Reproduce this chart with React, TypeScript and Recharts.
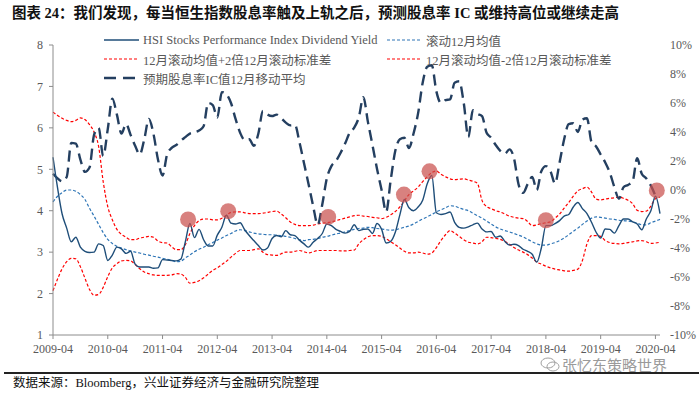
import React from "react"
import {
  ComposedChart,
  Line,
  Scatter,
  XAxis,
  YAxis,
} from "recharts"

// month index 0 = 2009-04, one value per month
const xTickLabels = [
  "2009-04", "2010-04", "2011-04", "2012-04", "2013-04", "2014-04",
  "2015-04", "2016-04", "2017-04", "2018-04", "2019-04", "2020-04",
]

const yieldValues = [
  5.29, 4.55, 3.92, 3.58, 3.25, 3.36, 3.12, 3.02, 2.99, 3.0, 3.2, 3.16,
  2.8, 2.93, 3.12, 3.08, 2.97, 3.02, 2.71, 2.64, 2.64, 2.64, 2.61, 2.62,
  2.82, 2.81, 2.8, 2.79, 2.83, 3.25, 3.69, 3.35, 3.55, 3.3, 3.15, 3.15,
  3.41, 3.6, 3.89, 3.7, 3.68, 3.71, 3.54, 3.4, 3.28, 3.16, 3.05, 3.1,
  3.33, 3.4, 3.37, 3.52, 3.42, 3.4, 3.29, 3.2, 3.12, 3.24, 3.33, 3.45,
  3.68, 3.64, 3.55, 3.5, 3.46, 3.5, 3.66, 3.52, 3.55, 3.56, 3.45, 3.69,
  3.55, 3.22, 3.26, 3.48, 3.9, 4.27, 4.07, 4.0, 4.09, 4.25, 4.65, 4.85,
  3.95, 3.91, 3.93, 3.97, 3.72, 3.6, 3.58, 3.61, 3.66, 3.7, 3.56, 3.49,
  3.5, 3.36, 3.39, 3.26, 3.17, 3.19, 3.16, 3.07, 3.02, 2.95, 2.76, 3.1,
  3.64, 3.64, 3.69, 3.76, 3.87, 3.91, 4.09, 4.2, 4.05, 3.93, 3.72, 3.48,
  3.34, 3.56, 3.55, 3.46, 3.64, 3.8, 3.8, 3.73, 3.68, 3.54, 3.8, 4.0,
  4.35, 3.93,
]

const meanValues = [
  4.21, 4.35, 4.44, 4.5, 4.5, 4.47, 4.39, 4.27, 4.06, 3.87, 3.67, 3.47,
  3.31, 3.21, 3.14, 3.1, 3.06, 3.03, 3.0, 2.98, 2.95, 2.93, 2.9, 2.88,
  2.85, 2.83, 2.8, 2.77, 2.78, 2.86, 2.93, 3.01, 3.07, 3.12, 3.18, 3.23,
  3.29, 3.34, 3.4, 3.45, 3.51, 3.54, 3.52, 3.49, 3.46, 3.44, 3.43, 3.42,
  3.42, 3.41, 3.4, 3.38, 3.36, 3.33, 3.3, 3.28, 3.3, 3.31, 3.33, 3.36,
  3.38, 3.41, 3.44, 3.46, 3.49, 3.52, 3.55, 3.57, 3.58, 3.6, 3.59, 3.57,
  3.56, 3.54, 3.53, 3.54, 3.57, 3.6, 3.63, 3.68, 3.74, 3.8, 3.85, 3.91,
  3.97, 4.02, 4.07, 4.12, 4.11, 4.07, 4.03, 4.0, 3.94, 3.88, 3.82, 3.75,
  3.68, 3.61, 3.56, 3.52, 3.49, 3.45, 3.41, 3.37, 3.31, 3.25, 3.2, 3.17,
  3.17, 3.2, 3.23, 3.28, 3.34, 3.42, 3.5, 3.58, 3.67, 3.75, 3.82, 3.85,
  3.84, 3.82, 3.8, 3.79, 3.77, 3.76, 3.75, 3.73, 3.7, 3.66, 3.66, 3.71,
  3.75, 3.79,
]

const upperValues = [
  6.38, 6.3, 6.23, 6.18, 6.15, 6.18, 6.24, 6.2, 6.08, 5.9, 5.55, 4.7,
  4.1, 3.78, 3.55, 3.43, 3.36, 3.3, 3.3, 3.34, 3.36, 3.38, 3.36, 3.27,
  3.23, 3.22, 3.13, 3.06, 3.06, 3.18, 3.45, 3.64, 3.76, 3.8, 3.8, 3.78,
  3.78, 3.82, 3.89, 3.96, 3.97, 3.97, 3.95, 3.93, 3.93, 3.93, 3.94, 3.96,
  3.98, 3.99, 3.92, 3.83, 3.73, 3.67, 3.64, 3.64, 3.64, 3.65, 3.68, 3.7,
  3.71, 3.73, 3.76, 3.79, 3.82, 3.85, 3.88, 3.89, 3.87, 3.86, 3.84, 3.83,
  3.81, 3.84, 3.9, 3.98, 4.09, 4.24, 4.39, 4.48, 4.57, 4.7, 4.82, 4.92,
  4.96, 4.88, 4.82, 4.77, 4.75, 4.76, 4.77, 4.74, 4.71, 4.66, 4.25, 4.1,
  4.05, 4.0, 3.97, 3.92, 3.87, 3.84, 3.82, 3.81, 3.74, 3.64, 3.66, 3.69,
  3.71, 3.73, 3.82, 3.92, 4.06, 4.2, 4.35, 4.48, 4.53, 4.57, 4.45, 4.28,
  4.26, 4.28, 4.3, 4.31, 4.33, 4.3, 4.25, 4.17, 4.01, 3.98, 3.99, 4.11,
  4.29, 4.33,
]

const lowerValues = [
  2.07, 2.35, 2.6, 2.77, 2.85, 2.84, 2.65, 2.37, 2.1, 1.96, 1.98, 2.15,
  2.41, 2.62, 2.72, 2.79, 2.8, 2.79, 2.7, 2.6, 2.52, 2.48, 2.45, 2.44,
  2.44, 2.44, 2.45, 2.48, 2.47, 2.39, 2.25, 2.27, 2.31, 2.38, 2.47, 2.56,
  2.62, 2.7, 2.78, 2.88, 2.97, 3.04, 3.04, 3.04, 3.06, 3.08, 3.0, 2.94,
  2.93, 2.92, 2.96, 3.0, 3.0, 3.02, 3.04, 3.01, 2.98, 3.01, 3.04, 3.04,
  3.04, 3.04, 3.04, 3.03, 3.03, 3.04, 3.05, 3.2, 3.3, 3.37, 3.4, 3.4,
  3.38, 3.32, 3.25, 3.18, 3.1, 3.02, 2.98, 2.98, 3.0, 2.98, 2.95, 2.98,
  3.11, 3.28, 3.42, 3.52, 3.46, 3.38, 3.3, 3.24, 3.22, 3.2, 3.25, 3.36,
  3.35, 3.33, 3.31, 3.26, 3.19, 3.11, 3.05, 3.0, 2.94, 2.86, 2.76, 2.71,
  2.66, 2.62, 2.59, 2.57, 2.55, 2.54, 2.56, 2.59, 2.8, 3.2, 3.4, 3.4,
  3.38, 3.28, 3.23, 3.21, 3.2, 3.21, 3.23, 3.25, 3.27, 3.28, 3.25, 3.21,
  3.22, 3.24,
]

// expected dividend yield IC, 12m moving average (%), right axis
const icValues = [
  1.12, 0.8, 0.6, 0.9, 3.25, 3.2, 2.1, 1.25, 1.55, 3.8, 4.28, 2.35,
  4.2, 6.3, 5.2, 3.89, 4.55, 3.8, 3.05, 2.45, 3.5, 4.9, 3.9, 2.1,
  1.0, 2.45, 2.9, 3.1, 3.4, 3.65, 3.89, 3.97, 4.1, 4.4, 6.0, 5.85,
  5.0, 6.75, 6.6, 6.0, 4.9, 3.95, 3.45, 3.5, 3.05, 3.9, 5.45, 5.2,
  5.1, 5.2, 4.95, 4.65, 4.46, 4.5, 3.3, 1.85, 0.4, -1.1, -2.4, -1.0,
  0.8, 1.65, 2.0, 2.55, 3.2, 3.95, 4.3, 5.0, 6.4, 4.7, 3.1, 1.45,
  0.0, -1.5, 0.7, 2.7, 3.5, 3.6, 2.9, 3.9, 5.3, 7.4, 8.5, 8.6,
  6.8, 6.0, 6.2, 6.25, 7.4, 7.5, 6.0, 3.65, 5.5, 5.25, 5.1, 3.95,
  3.6, 3.1, 2.7, 2.5, 2.8, 2.2, 0.4, -0.2, 0.4, 0.9, 0.0, 1.3,
  1.65, 1.3, 0.45, 1.9, 3.5, 4.55, 4.6, 4.0, 4.85, 4.95, 3.3, 3.0,
  2.45, 1.9, 1.2, 0.2, -0.6, 0.19, 0.35, 0.6, 2.2, 1.12, 0.8, 0.3,
  -0.4, null,
]

// touches of the upper band (month index, yield)
const signalMonths = [29.6, 38.4, 60.3, 76.9, 82.5, 108, 132.3]
const signalValues = [3.79, 3.99, 3.85, 4.39, 4.95, 3.77, 4.49]

const leftTicks = [1, 2, 3, 4, 5, 6, 7, 8]
const rightTicks = [-10, -8, -6, -4, -2, 0, 2, 4, 6, 8, 10]

const rows = yieldValues.map((v, i) => ({
  m: i,
  dy: v,
  mean: meanValues[i],
  upper: upperValues[i],
  lower: lowerValues[i],
  ic: icValues[i],
}))

const signals = signalMonths.map((m, i) => ({ m, v: signalValues[i] }))

const serif = '"Liberation Serif", "Times New Roman", "Noto Sans CJK SC", serif'
const tickStyle = { fill: "#595959", fontSize: 12, fontFamily: serif }

const legendItems = [
  { name: "HSI Stocks Performance Index Dividend Yield", color: "#1F4E79", dash: undefined, width: 1.4, x: 104, y: 40 },
  { name: "滚动12月均值", color: "#2E75B6", dash: "3 2", width: 1.2, x: 387, y: 40 },
  { name: "12月滚动均值+2倍12月滚动标准差", color: "#FF0000", dash: "3 2", width: 1.2, x: 104, y: 59 },
  { name: "12月滚动均值-2倍12月滚动标准差", color: "#FF0000", dash: "3 2", width: 1.2, x: 387, y: 59 },
  { name: "预期股息率IC值12月移动平均", color: "#243F60", dash: "12 7", width: 2.5, x: 104, y: 78 },
]

function LegendOverlay() {
  return (
    <>
      {legendItems.map((it) => (
        <div
          key={it.name}
          style={{
            position: "absolute",
            left: it.x,
            top: it.y - 9,
            height: 18,
            display: "flex",
            alignItems: "center",
            whiteSpace: "nowrap",
            fontFamily: serif,
            fontSize: 12.5,
            color: "#595959",
          }}
        >
          <svg width={36} height={18} style={{ marginRight: 3 }}>
            <line
              x1={0}
              y1={9}
              x2={35}
              y2={9}
              stroke={it.color}
              strokeWidth={it.width}
              strokeDasharray={it.dash}
            />
          </svg>
          <span>{it.name}</span>
        </div>
      ))}
    </>
  )
}

function SignalDot(props: { cx?: number; cy?: number }) {
  if (props.cx == null || props.cy == null) return null
  return <circle cx={props.cx} cy={props.cy} r={8} fill="#C9504D" fillOpacity={0.72} />
}

export default function App() {
  return (
    <div
      style={{
        position: "relative",
        width: 699,
        height: 393,
        background: "#fff",
        overflow: "hidden",
      }}
    >
      <style>{"body{margin:0}"}</style>
      <div
        style={{
          position: "absolute",
          left: 12,
          top: 4,
          fontFamily: serif,
          fontWeight: 700,
          fontSize: 14.5,
          lineHeight: "18px",
          color: "#111",
          whiteSpace: "nowrap",
        }}
      >
        图表 24：我们发现，每当恒生指数股息率触及上轨之后，预测股息率 IC 或维持高位或继续走高
      </div>

      <ComposedChart
        width={699}
        height={393}
        data={rows}
        margin={{ top: 45, right: 0, bottom: 0, left: 0 }}
      >
        <XAxis
          dataKey="m"
          type="number"
          domain={[0, 133]}
          ticks={xTickLabels.map((_, i) => i * 12)}
          tickFormatter={(v: number) => xTickLabels[v / 12]}
          interval={0}
          height={58}
          tickSize={4}
          tickMargin={5}
          stroke="#8c8c8c"
          tick={tickStyle}
        />
        <YAxis
          yAxisId="left"
          domain={[1, 8]}
          ticks={leftTicks}
          width={53}
          tickSize={4}
          tickMargin={6}
          stroke="#8c8c8c"
          tick={tickStyle}
        />
        <YAxis
          yAxisId="right"
          orientation="right"
          domain={[-10, 10]}
          ticks={rightTicks}
          width={39}
          axisLine={false}
          tickLine={false}
          tickSize={0}
          tickMargin={10}
          tickFormatter={(v: number) => `${v}%`}
          tick={tickStyle}
        />
        <Line yAxisId="left" type="monotone" dataKey="upper" stroke="#FF0000" strokeWidth={1.2} strokeDasharray="3 2" dot={false} isAnimationActive={false} />
        <Line yAxisId="left" type="monotone" dataKey="lower" stroke="#FF0000" strokeWidth={1.2} strokeDasharray="3 2" dot={false} isAnimationActive={false} />
        <Line yAxisId="left" type="monotone" dataKey="mean" stroke="#2E75B6" strokeWidth={1.2} strokeDasharray="3 2" dot={false} isAnimationActive={false} />
        <Line yAxisId="right" type="monotone" dataKey="ic" stroke="#243F60" strokeWidth={2.4} strokeDasharray="11 6" dot={false} isAnimationActive={false} />
        <Line yAxisId="left" type="monotone" dataKey="dy" stroke="#1F4E79" strokeWidth={1.4} dot={false} isAnimationActive={false} />
        <Scatter yAxisId="left" data={signals} dataKey="v" shape={<SignalDot />} isAnimationActive={false} />
      </ComposedChart>

      <LegendOverlay />

      {/* watermark */}
      <div
        style={{
          position: "absolute",
          left: 540,
          top: 357,
          height: 15,
          display: "flex",
          alignItems: "center",
          color: "#9a9a9a",
          fontFamily: '"Noto Sans CJK SC", sans-serif',
          fontSize: 15,
          lineHeight: "15px",
          whiteSpace: "nowrap",
        }}
      >
        <svg width={20} height={15} style={{ marginRight: 2 }}>
          <ellipse cx={8} cy={6} rx={7} ry={5} fill="none" stroke="#a0a0a0" strokeWidth={1} />
          <ellipse cx={13} cy={9.5} rx={6} ry={4.5} fill="none" stroke="#a0a0a0" strokeWidth={1} />
        </svg>
        <span>张忆东策略世界</span>
      </div>

      <div style={{ position: "absolute", left: 4, top: 372, width: 695, height: 2, background: "#222" }} />
      <div
        style={{
          position: "absolute",
          left: 13,
          top: 376,
          fontFamily: serif,
          fontSize: 12.5,
          lineHeight: "14px",
          color: "#111",
          whiteSpace: "nowrap",
        }}
      >
        数据来源：Bloomberg，兴业证券经济与金融研究院整理
      </div>
    </div>
  )
}
